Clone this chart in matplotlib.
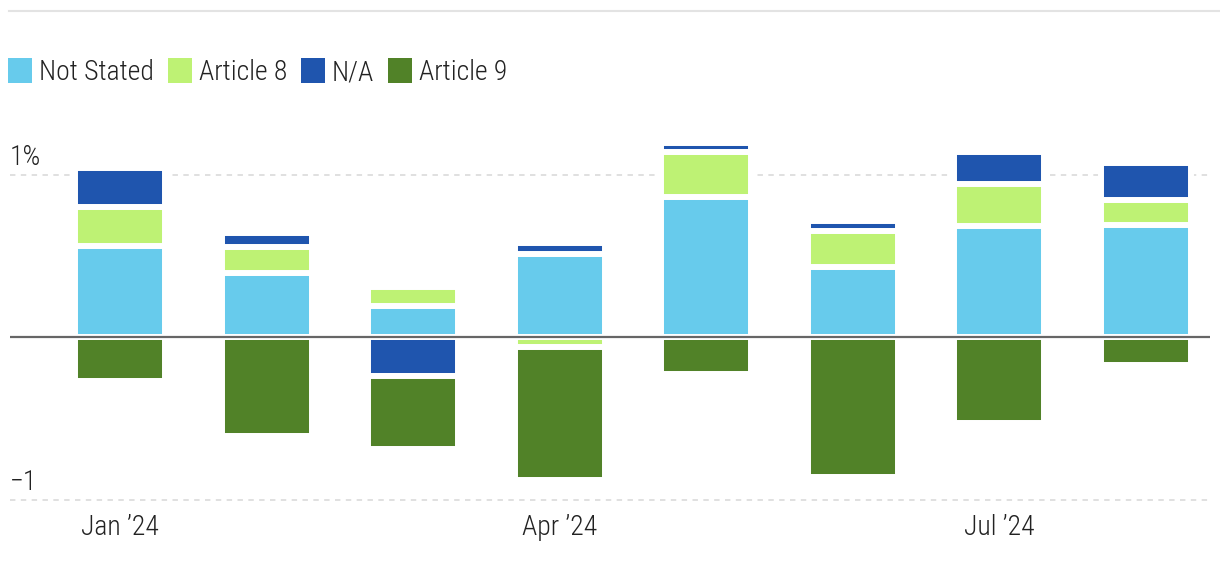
import numpy as np
import matplotlib.pyplot as plt
from matplotlib.patches import Patch
from matplotlib.lines import Line2D
from matplotlib import font_manager

# monthly flows, % of assets
months = ["Jan", "Feb", "Mar", "Apr", "May", "Jun", "Jul", "Aug"]
tick_labels = ["Jan \u201924", "Apr \u201924", "Jul \u201924"]
series = ["Not Stated", "Article 8", "N/A", "Article 9"]
not_stated = [0.56, 0.395, 0.19, 0.51, 0.863, 0.432, 0.684, 0.69]
article_8 = [0.24, 0.16, 0.12, -0.06, 0.277, 0.22, 0.258, 0.154]
n_a = [0.24, 0.085, -0.24, 0.066, 0.054, 0.062, 0.196, 0.226]
article_9 = [-0.27, -0.61, -0.45, -0.82, -0.226, -0.86, -0.527, -0.17]

colors = ["#67CBEC", "#BEF274", "#1F55AE", "#518228"]

names = {f.name for f in font_manager.fontManager.ttflist}
font = "DejaVu Sans"
for cand in ["Liberation Sans Narrow", "DejaVu Sans Condensed", "Roboto Condensed", "Roboto"]:
    if cand in names:
        font = cand
        break
plt.rcParams["font.family"] = [font, "DejaVu Sans"]
plt.rcParams["font.weight"] = "light"
txt_color = "#222222"

W, H = 1220, 572
fig = plt.figure(figsize=(W / 100, H / 100), dpi=100)
ylo, yhi = -1.02, 1.22
ppu = 162.5
zero_px = 337
top_px = zero_px - yhi * ppu
bot_px = zero_px - ylo * ppu
ax = fig.add_axes([10 / W, 1 - bot_px / H, 1200 / W, (bot_px - top_px) / H])

x = np.arange(len(months))
data = [not_stated, article_8, n_a, article_9]
pos_base = np.zeros(len(months))
neg_base = np.zeros(len(months))
for vals, c in zip(data, colors):
    vals = np.array(vals)
    bottoms = np.where(vals >= 0, pos_base, neg_base)
    ax.bar(x, vals, width=0.614, bottom=bottoms, color=c,
           edgecolor="white", linewidth=4.3, zorder=2)
    pos_base += np.clip(vals, 0, None)
    neg_base += np.clip(vals, None, 0)

ax.set_xlim(-0.75, 7.437)
ax.set_ylim(ylo, yhi)
for yv in [1, -1]:
    ax.axhline(yv, color="#dddddd", lw=1.3, ls=(0, (3, 3)), zorder=1)
ax.axhline(0, color="#666666", lw=1.6, zorder=3)

ax.text(0, 1.06, "1%", fontsize=20, color=txt_color, ha="left", va="baseline",
        transform=ax.get_yaxis_transform())
ax.text(0, -0.94, "\u22121", fontsize=20, color=txt_color, ha="left", va="baseline",
        transform=ax.get_yaxis_transform())

ax.set_yticks([])
ax.set_xticks([0, 3, 6])
ax.set_xticklabels(tick_labels, fontsize=20, color=txt_color)
ax.tick_params(axis="x", length=0, pad=8)
for s in ax.spines.values():
    s.set_visible(False)

fig.add_artist(Line2D([9 / W, 1], [1 - 11 / H, 1 - 11 / H], color="#e3e3e3", lw=1.5))

handles = [Patch(facecolor=c, edgecolor="none") for c in colors]
fig.legend(handles, series, loc="upper left", bbox_to_anchor=(0.0, 1 - 50 / H),
           ncol=4, frameon=False, fontsize=20, handlelength=0.86, handleheight=1.0,
           handletextpad=0.25, columnspacing=0.5, labelcolor=txt_color,
           borderaxespad=0, borderpad=0.3)

fig.savefig("out.png", dpi=100)
